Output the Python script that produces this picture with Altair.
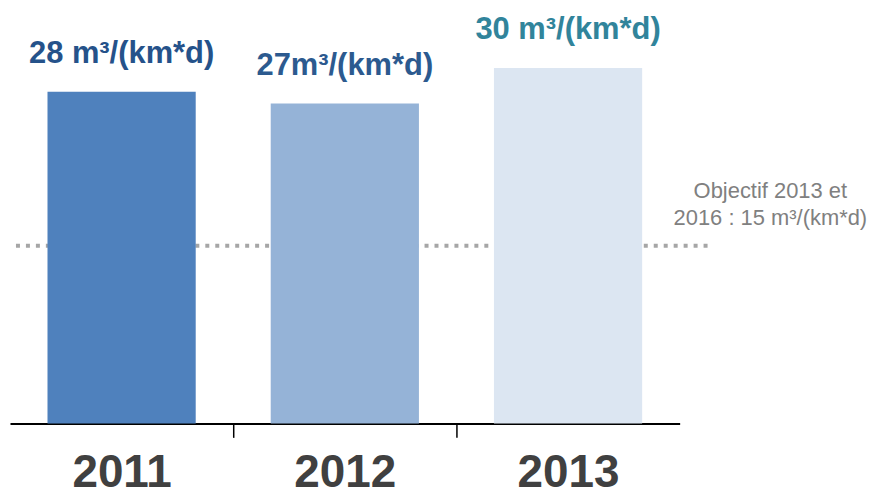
import altair as alt
import pandas as pd

years = ["2011", "2012", "2013"]
values = [28, 27, 30]
labels = ["28 m³/(km*d)", "27m³/(km*d)", "30 m³/(km*d)"]
target = 15
target_text = ["Objectif 2013 et", "2016 : 15 m³/(km*d)"]

bar_colors = ["#4F81BD", "#95B3D7", "#DCE6F2"]
label_colors = ["#25528A", "#2C5A8F", "#31849B"]

df = pd.DataFrame({"year": years, "value": values, "label": labels})

FONT = "Liberation Sans"

x = alt.X(
    "year:N",
    sort=years,
    title=None,
    scale=alt.Scale(range=[0, 672], paddingInner=0.336, paddingOuter=0.168),
    axis=alt.Axis(
        bandPosition=0,
        tickOffset=-38,
        labelOffset=38,
        labelAngle=0,
        labelFont=FONT,
        labelFontSize=46,
        labelFontWeight="bold",
        labelColor="#404040",
        labelPadding=13,
        tickSize=14,
        tickWidth=1.5,
        tickColor={"condition": {"test": "datum.value === '2011'", "value": "transparent"}, "value": "#000000"},
        domainColor="#000000",
        domainWidth=2,
        grid=False,
    ),
)
y = alt.Y("value:Q", scale=alt.Scale(domain=[0, 35]), axis=None)

base = alt.Chart(df)

rule = alt.Chart(pd.DataFrame({"t": [target]})).mark_rule(
    color="#A6A6A6", strokeWidth=4, strokeDash=[4, 6]
).encode(y=alt.Y("t:Q", scale=alt.Scale(domain=[0, 35]), axis=None))

bars = base.mark_bar().encode(
    x=x,
    y=y,
    color=alt.Color("year:N", scale=alt.Scale(domain=years, range=bar_colors), legend=None),
)

texts = base.mark_text(
    font=FONT, fontSize=31, fontWeight="bold", baseline="middle", dy=-38
).encode(
    x=alt.X("year:N", sort=years),
    y=y,
    text="label:N",
    color=alt.Color("year:N", scale=alt.Scale(domain=years, range=label_colors), legend=None),
)

note = alt.Chart(pd.DataFrame({"t": [target], "txt": [target_text]})).mark_text(
    font=FONT, fontSize=22, color="#808080", baseline="middle", align="center",
    lineHeight=27, dy=-55,
).encode(
    x=alt.value(763),
    y=alt.Y("t:Q", scale=alt.Scale(domain=[0, 35]), axis=None),
    text="txt",
)

chart = alt.layer(rule, bars, texts, note).resolve_scale(color="independent").properties(
    width=700, height=416, padding=0
).configure_view(stroke=None)

chart.save("out.html", embed_options={"renderer": "svg", "actions": False})
